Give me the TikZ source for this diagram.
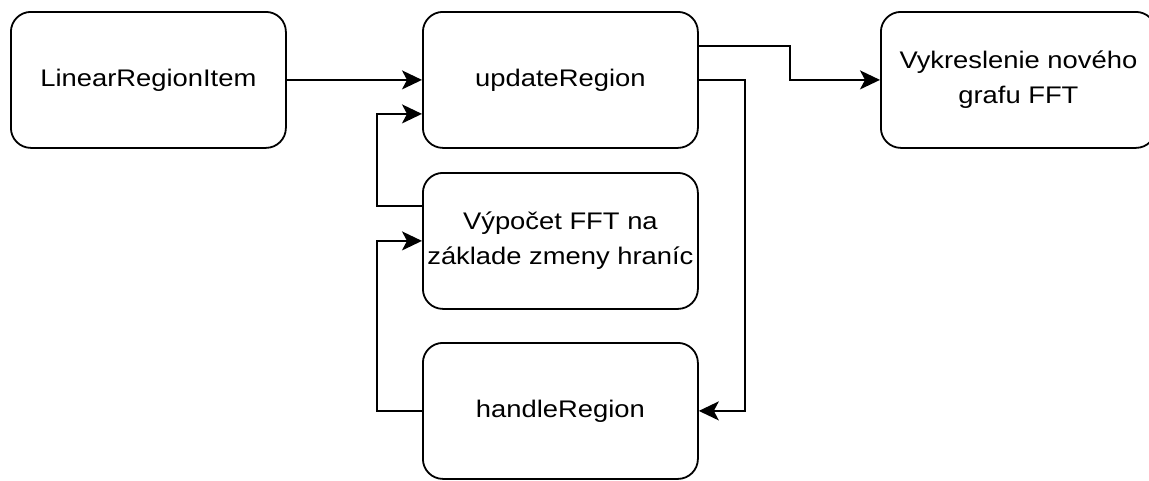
\documentclass[tikz,border=0pt]{standalone}
\usepackage{fontspec}
\setmainfont{Liberation Sans}[FakeStretch=1.14]
\usetikzlibrary{arrows.meta}

\begin{document}
\begin{tikzpicture}[x=1pt,y=-1pt,
  box/.style={draw=black, line width=1.8pt, rounded corners=20pt,
    minimum width=275pt, minimum height=136pt, inner sep=0pt,
    align=center, anchor=north west, text=black,
    font=\fontsize{24}{35}\selectfont},
  link/.style={draw=black, line width=1.8pt,
    -{Stealth[length=20pt,width=19pt,inset=5pt]}}]

  % page frame
  \useasboundingbox (0,0) rectangle (1149,480);
  \fill[white] (0,0) rectangle (1149,480);
  \clip (0,0) rectangle (1149,480);

  % process boxes
  \node[box] (item)   at (10,11)  {LinearRegionItem};
  \node[box] (update) at (422,11) {updateRegion};
  \node[box] (plot)   at (880,11) {Vykreslenie nového\\grafu FFT};
  \node[box] (fft)    at (422,172) {Výpočet FFT na\\základe zmeny hraníc};
  \node[box] (handle) at (422,342) {handleRegion};

  % flow between the steps
  \draw[link] (item.east) -- (update.west);
  \draw[link] ([yshift=34pt]update.east) -- ++(91,0) |- (plot.west);
  \draw[link] (update.east) -- ++(46,0) |- (handle.east);
  \draw[link] (handle.west) -- ++(-45,0) |- (fft.west);
  \draw[link] ([yshift=35pt]fft.west) -- ++(-45,0) |- ([yshift=-34pt]update.west);
\end{tikzpicture}
\end{document}
